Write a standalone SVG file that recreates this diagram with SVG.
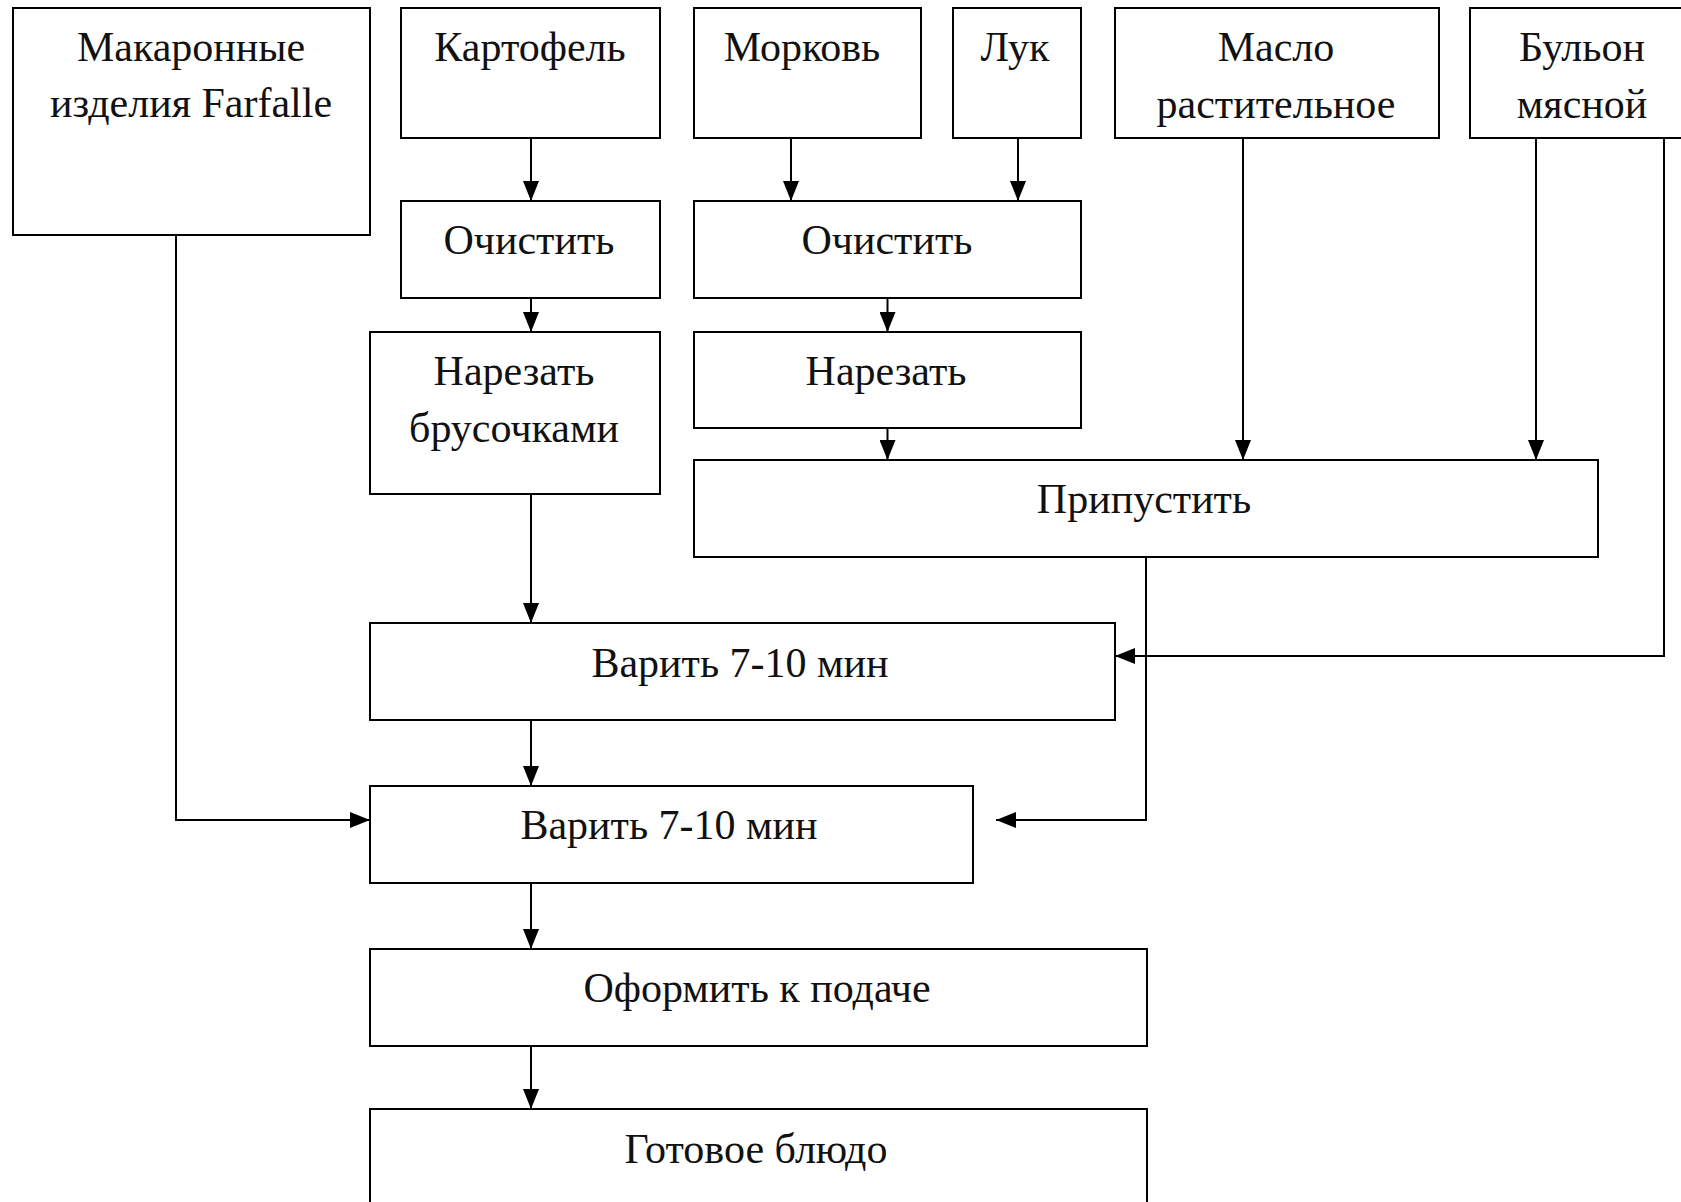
<svg xmlns="http://www.w3.org/2000/svg" width="1681" height="1202" viewBox="0 0 1681 1202">
<style>
.box{fill:#fff;stroke:#000;stroke-width:2}
.t{font-family:"Liberation Serif","Times New Roman",serif;font-size:42px;fill:#111;text-anchor:middle}
.c{fill:none;stroke:#000;stroke-width:2}
</style>
<defs>
<marker id="ah" markerUnits="userSpaceOnUse" markerWidth="20" markerHeight="16" refX="20" refY="8" orient="auto">
<path d="M0,0 L20,8 L0,16 Z" fill="#000"/>
</marker>
</defs>
<rect width="1681" height="1202" fill="#fff"/>
<g id="connectors">
<path class="c" d="M531,138 V201" marker-end="url(#ah)"/>
<path class="c" d="M531,298 V332" marker-end="url(#ah)"/>
<path class="c" d="M791,138 V201" marker-end="url(#ah)"/>
<path class="c" d="M1018,138 V201" marker-end="url(#ah)"/>
<path class="c" d="M887.5,298 V332" marker-end="url(#ah)"/>
<path class="c" d="M887.5,428 V460" marker-end="url(#ah)"/>
<path class="c" d="M1243,138 V460" marker-end="url(#ah)"/>
<path class="c" d="M1536,138 V460" marker-end="url(#ah)"/>
<path class="c" d="M1664,138 V656 H1115" marker-end="url(#ah)"/>
<path class="c" d="M531,494 V623" marker-end="url(#ah)"/>
<path class="c" d="M531,720 V786" marker-end="url(#ah)"/>
<path class="c" d="M176,235 V820 H370" marker-end="url(#ah)"/>
<path class="c" d="M1146,557 V820 H996" marker-end="url(#ah)"/>
<path class="c" d="M531,883 V949" marker-end="url(#ah)"/>
<path class="c" d="M531,1046 V1109" marker-end="url(#ah)"/>
</g>
<g id="n-makarony"><rect class="box" x="13" y="8" width="357" height="227"/><text class="t" x="191" y="61">Макаронные</text><text class="t" x="191" y="117">изделия Farfalle</text></g>
<g id="n-kartofel"><rect class="box" x="401" y="8" width="259" height="130"/><text class="t" x="530" y="61">Картофель</text></g>
<g id="n-morkov"><rect class="box" x="694" y="8" width="227" height="130"/><text class="t" x="802" y="61">Морковь</text></g>
<g id="n-luk"><rect class="box" x="953" y="8" width="128" height="130"/><text class="t" x="1015" y="61">Лук</text></g>
<g id="n-maslo"><rect class="box" x="1115" y="8" width="324" height="130"/><text class="t" x="1276" y="61">Масло</text><text class="t" x="1276" y="118">растительное</text></g>
<g id="n-bulon"><rect class="box" x="1470" y="8" width="225" height="130"/><text class="t" x="1582" y="61">Бульон</text><text class="t" x="1582" y="118">мясной</text></g>
<g id="n-ochistit1"><rect class="box" x="401" y="201" width="259" height="97"/><text class="t" x="529" y="254">Очистить</text></g>
<g id="n-ochistit2"><rect class="box" x="694" y="201" width="387" height="97"/><text class="t" x="887" y="254">Очистить</text></g>
<g id="n-narezat-br"><rect class="box" x="370" y="332" width="290" height="162"/><text class="t" x="514" y="385">Нарезать</text><text class="t" x="514" y="442">брусочками</text></g>
<g id="n-narezat"><rect class="box" x="694" y="332" width="387" height="96"/><text class="t" x="886" y="385">Нарезать</text></g>
<g id="n-pripustit"><rect class="box" x="694" y="460" width="904" height="97"/><text class="t" x="1144" y="513">Припустить</text></g>
<g id="n-varit1"><rect class="box" x="370" y="623" width="745" height="97"/><text class="t" x="740" y="677">Варить 7-10 мин</text></g>
<g id="n-varit2"><rect class="box" x="370" y="786" width="603" height="97"/><text class="t" x="669" y="839">Варить 7-10 мин</text></g>
<g id="n-oformit"><rect class="box" x="370" y="949" width="777" height="97"/><text class="t" x="757" y="1002">Оформить к подаче</text></g>
<g id="n-gotovoe"><rect class="box" x="370" y="1109" width="777" height="120"/><text class="t" x="756" y="1163">Готовое блюдо</text></g>
</svg>
